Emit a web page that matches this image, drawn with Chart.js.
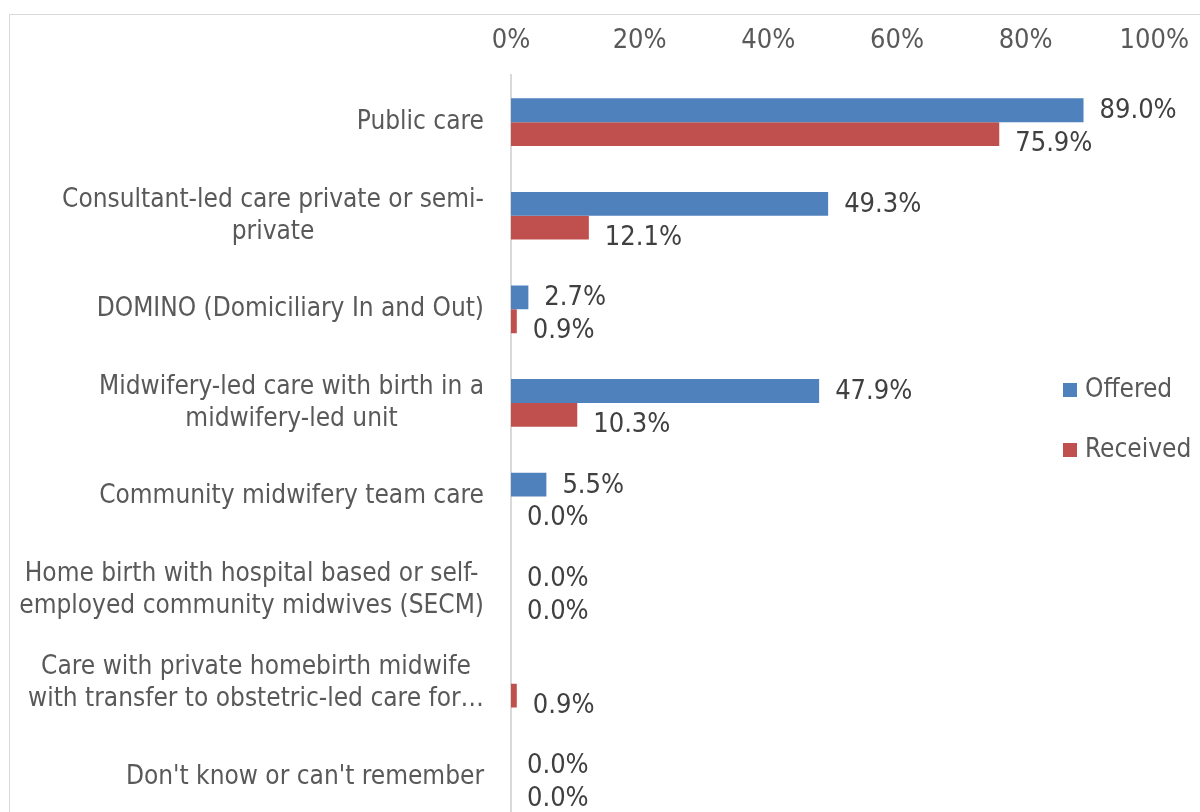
<!DOCTYPE html>
<html>
<head>
<meta charset="utf-8">
<script src="https://cdn.jsdelivr.net/npm/chart.js@4.4.1/dist/chart.umd.min.js"></script>
<style>
  html, body { margin: 0; padding: 0; background: #fff; overflow: hidden; }
  #wrap { position: relative; width: 1200px; height: 812px; overflow: hidden; }
  #frame { position: absolute; left: 9px; top: 14px; width: 1300px; height: 900px; border: 1px solid #d9d9d9; }
  #careChart { position: absolute; left: 0; top: 0; }
</style>
</head>
<body>
<div id="wrap">
  <div id="frame"></div>
  <canvas id="careChart" width="1207" height="830"></canvas>
</div>
<script>
// ---- data ----
var categories = [
  ["Public care"],
  ["Consultant-led care private or semi-", "private"],
  ["DOMINO (Domiciliary In and Out)"],
  ["Midwifery-led care with birth in a", "midwifery-led unit"],
  ["Community midwifery team care"],
  ["Home birth with hospital based or self-", "employed community midwives (SECM)"],
  ["Care with private homebirth midwife", "with transfer to obstetric-led care for\u2026"],
  ["Don't know or can't remember"]
];
var offered  = [89.0, 49.3, 2.7, 47.9, 5.5, 0.0, null, 0.0];
var received = [75.9, 12.1, 0.9, 10.3, 0.0, 0.0, 0.9, 0.0];
var seriesNames = ["Offered", "Received"];
var tickValues = [0, 20, 40, 60, 80, 100];

var blue = "#4F81BD";
var red  = "#C0504D";
var fontFam = "'DejaVu Sans Condensed', 'DejaVu Sans', sans-serif";
var textSize = 26;   // category + legend text
var numSize  = 27;   // ticks + value labels

// category labels: block right aligned, lines centred inside the block
var categoryLabels = {
  id: "categoryLabels",
  afterDraw: function (chart) {
    var ctx = chart.ctx, yScale = chart.scales.y;
    var rightEdge = chart.chartArea.left - 27;
    var lh = 32;
    ctx.save();
    ctx.font = textSize + "px " + fontFam;
    ctx.fillStyle = "#595959";
    ctx.textAlign = "center";
    ctx.textBaseline = "middle";
    categories.forEach(function (lines, i) {
      var yc = yScale.getPixelForValue(i);
      var maxW = 0;
      lines.forEach(function (l) { maxW = Math.max(maxW, ctx.measureText(l).width); });
      var cx = rightEdge - maxW / 2;
      var y0 = yc - (lines.length - 1) * lh / 2;
      lines.forEach(function (l, k) { ctx.fillText(l, cx, y0 + k * lh); });
    });
    ctx.restore();
  }
};

// value labels at the end of each bar
var valueLabels = {
  id: "valueLabels",
  afterDatasetsDraw: function (chart) {
    var ctx = chart.ctx;
    ctx.save();
    ctx.font = numSize + "px " + fontFam;
    ctx.fillStyle = "#404040";
    ctx.textAlign = "left";
    ctx.textBaseline = "middle";
    chart.data.datasets.forEach(function (ds, di) {
      var meta = chart.getDatasetMeta(di);
      meta.data.forEach(function (bar, i) {
        var v = ds.data[i];
        if (v === null || v === undefined) return;
        var dy = di === 1 ? 10 : 1;
        ctx.fillText(v.toFixed(1) + "%", bar.x + 16, bar.y + dy);
      });
    });
    ctx.restore();
  }
};

// legend on the right
var sideLegend = {
  id: "sideLegend",
  afterDraw: function (chart) {
    var ctx = chart.ctx;
    var x = 1063, ys = [390, 450];
    ctx.save();
    ctx.font = textSize + "px " + fontFam;
    ctx.textAlign = "left";
    ctx.textBaseline = "middle";
    chart.data.datasets.forEach(function (ds, di) {
      ctx.fillStyle = ds.backgroundColor;
      ctx.fillRect(x, ys[di] - 7, 14, 14);
      ctx.fillStyle = "#595959";
      ctx.fillText(ds.label, x + 22, ys[di]);
    });
    ctx.restore();
  }
};

new Chart(document.getElementById("careChart"), {
  type: "bar",
  data: {
    labels: categories.map(function (c) { return c.join(" "); }),
    datasets: [
      { label: seriesNames[0], data: offered, backgroundColor: blue, categoryPercentage: 0.51, barPercentage: 1.0 },
      { label: seriesNames[1], data: received, backgroundColor: red, categoryPercentage: 0.51, barPercentage: 1.0 }
    ]
  },
  options: {
    indexAxis: "y",
    responsive: false,
    animation: false,
    layout: { padding: { left: 511, right: 43, top: 7, bottom: 6 } },
    plugins: { legend: { display: false }, tooltip: { enabled: false } },
    scales: {
      x: {
        position: "top",
        min: 0,
        max: 100,
        afterBuildTicks: function (axis) { axis.ticks = tickValues.map(function (v) { return { value: v }; }); },
        grid: { display: false, drawTicks: false },
        border: { display: false },
        ticks: {
          padding: 18,
          color: "#595959",
          font: { family: fontFam, size: numSize },
          callback: function (v) { return v + "%"; }
        }
      },
      y: {
        grid: { display: false, drawTicks: false },
        border: { display: true, color: "#d9d9d9", width: 2 },
        ticks: { display: false }
      }
    }
  },
  plugins: [categoryLabels, valueLabels, sideLegend]
});
</script>
</body>
</html>
